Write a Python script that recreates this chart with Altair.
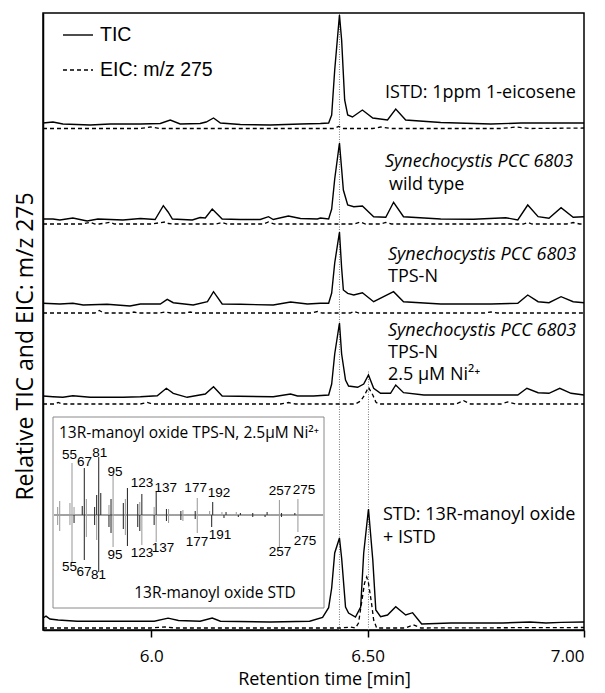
import altair as alt
import pandas as pd

# ---------------- chromatograms ----------------
# retention time (min) and relative intensity above each trace's own EIC baseline
istd_tic_rt = [5.750, 5.773, 5.796, 5.859, 5.905, 5.975, 6.021, 6.044, 6.067, 6.113, 6.127, 6.144, 6.160, 6.206,
               6.275, 6.345, 6.391, 6.410, 6.417, 6.424, 6.435, 6.440, 6.447, 6.454, 6.465, 6.488, 6.512, 6.546,
               6.565, 6.588, 6.669, 6.785, 6.854, 6.924, 7.0]
istd_tic = [5.5, 6.5, 4.5, 3.5, 4.5, 4.5, 5, 8.5, 4.5, 5, 6.5, 10.5, 5.5, 4, 3.5, 4.5, 5, 5.5, 13.5, 58.5, 113.5,
            88.5, 28.5, 13.5, 11.5, 18.5, 10.5, 8.5, 19.5, 8.5, 6, 4.5, 5.5, 5.5, 5.5]
istd_eic_rt = [5.750, 5.975, 5.998, 6.021, 6.345, 6.422, 6.433, 6.444, 6.512, 6.530, 6.553, 6.692, 6.808, 6.843,
               6.877, 7.0]
istd_eic = [0, 0, 1.5, 0, 0, 0, 2, 0, 0, 1.5, 0, 0, 0, 1.5, 0, 0.5]

wt_tic_rt = [5.750, 5.773, 5.789, 5.819, 5.852, 5.877, 5.935, 5.975, 6.009, 6.028, 6.039, 6.049, 6.095, 6.113,
             6.125, 6.141, 6.164, 6.206, 6.252, 6.271, 6.282, 6.317, 6.345, 6.384, 6.391, 6.410, 6.417, 6.424,
             6.435, 6.440, 6.444, 6.454, 6.468, 6.488, 6.514, 6.542, 6.560, 6.583, 6.669, 6.745, 6.819, 6.847,
             6.870, 6.894, 6.919, 6.947, 6.975, 7.0]
wt_tic = [5, 5, 4, 6, 3, 5, 4, 5.5, 4.5, 18.3, 12, 5, 4, 6.5, 6, 15, 5, 4.5, 4.5, 7.3, 4.5, 8, 5.5, 5, 6, 5, 15,
          45, 81, 55, 34, 19, 17.3, 18, 7.3, 6.7, 21.7, 7.3, 5, 4.7, 6.3, 4, 19, 7.3, 5.7, 16.3, 6.7, 7.3]
wt_eic_rt = [5.750, 5.840, 5.859, 5.870, 5.880, 5.905, 5.915, 6.000, 6.032, 6.040, 6.050, 6.150, 6.164, 6.175,
             6.260, 6.271, 6.285, 6.470, 6.484, 6.495, 6.530, 6.542, 6.555, 6.860, 6.870, 6.880, 6.960, 6.975,
             6.990, 7.0]
wt_eic = [0, 0, 1.7, 0, 0, 1.7, 0, 0, 2, 0.5, 0, 0, 1.5, 0, 0, 2, 0, 0, 2, 0, 0, 1.5, 0, 0, 1.5, 0, 0, 1.5, 0, 0]

tps_tic_rt = [5.750, 5.789, 5.819, 5.843, 5.898, 5.951, 5.975, 6.021, 6.037, 6.051, 6.097, 6.130, 6.144, 6.164,
              6.206, 6.282, 6.322, 6.361, 6.391, 6.410, 6.417, 6.424, 6.435, 6.440, 6.444, 6.454, 6.468, 6.488,
              6.514, 6.560, 6.583, 6.669, 6.785, 6.847, 6.870, 6.894, 6.919, 6.947, 6.975, 7.0]
tps_tic = [9.7, 9, 9.7, 8, 8.7, 7, 9, 9, 13.7, 10.3, 8, 11.3, 21.3, 9, 8.7, 8, 11, 9, 9.7, 9.7, 20, 50, 81, 45,
           23, 19.7, 18, 20.3, 11.3, 21.3, 11.3, 9, 9, 9.7, 18, 11.3, 10.3, 16.3, 11.3, 10.3]
tps_eic_rt = [5.750, 5.870, 5.880, 5.890, 5.950, 5.960, 5.970, 6.020, 6.032, 6.045, 6.080, 6.090, 6.100, 6.370,
              6.384, 6.395, 6.460, 6.468, 6.480, 6.770, 6.785, 6.800, 7.0]
tps_eic = [0, 0, 2.5, 0, 0, 1, 0, 0, 1, 0, 0, 1, 0, 0, 1.5, 0, 0, 1.5, 0, 0, 1, 0, 0]

ni_tic_rt = [5.750, 5.773, 5.796, 5.819, 5.859, 5.935, 5.975, 6.014, 6.035, 6.051, 6.083, 6.125, 6.144, 6.164,
             6.282, 6.322, 6.338, 6.375, 6.410, 6.417, 6.424, 6.435, 6.440, 6.449, 6.456, 6.477, 6.491, 6.502,
             6.514, 6.530, 6.553, 6.565, 6.583, 6.630, 6.745, 6.847, 6.868, 6.894, 6.919, 6.944, 6.970, 7.0]
ni_tic = [8, 7.3, 6.7, 8.3, 6.7, 6.7, 7.3, 8.3, 15.7, 10.7, 6.7, 10, 17.3, 8, 7.3, 10, 8, 8, 9, 20, 50, 81, 50,
          24, 18, 16.7, 20, 29, 15.7, 10.7, 10.7, 19, 11.3, 9, 9, 9, 15.7, 11.3, 10.7, 15.7, 10.7, 9]
ni_eic_rt = [5.750, 5.778, 5.785, 5.794, 5.975, 5.991, 6.002, 6.299, 6.317, 6.333, 6.472, 6.484, 6.493, 6.502,
             6.512, 6.519, 6.525, 6.704, 6.722, 6.738, 6.808, 6.824, 6.843, 7.0]
ni_eic = [0, 0, 1.5, 0, 0, 1.5, 0, 0, 1.5, 0, 0, 3, 9, 16.7, 9, 2, 0, 0, 3.3, 0, 0, 2, 0, 0]

std_tic_rt = [5.750, 5.757, 5.766, 5.785, 5.829, 6.007, 6.039, 6.063, 6.113, 6.141, 6.160, 6.275, 6.366, 6.396,
              6.410, 6.417, 6.424, 6.435, 6.440, 6.449, 6.456, 6.472, 6.484, 6.491, 6.502, 6.512, 6.519, 6.530,
              6.546, 6.565, 6.588, 6.604, 6.625, 6.692, 6.812, 6.875, 6.912, 6.947, 7.0]
std_tic = [10, 11.8, 9, 8, 6.8, 6.8, 9.9, 7.5, 6.8, 9.9, 6.8, 6, 6.8, 10.6, 20.3, 40, 75, 90, 70, 21, 15, 11, 21,
           75, 119, 68, 18, 11.3, 13, 21.3, 13, 15.3, 4, 5, 5, 6, 5, 5.6, 6]
std_eic_rt = [5.750, 5.998, 6.032, 6.056, 6.438, 6.461, 6.472, 6.479, 6.486, 6.493, 6.498, 6.502, 6.509, 6.514,
              6.521, 6.588, 6.606, 6.623, 7.0]
std_eic = [0, 0, 1, 0, 0, 1, 0, 5, 25, 45, 51, 45, 25, 8, 0, 0, 3.2, 0, 0.5]

panels = ["ISTD", "WT", "TPSN", "NI", "STD"]
panel_baseline = [501.5, 406, 317, 226, 2]
tic_series = [(istd_tic_rt, istd_tic), (wt_tic_rt, wt_tic), (tps_tic_rt, tps_tic), (ni_tic_rt, ni_tic),
              (std_tic_rt, std_tic)]
eic_series = [(istd_eic_rt, istd_eic), (wt_eic_rt, wt_eic), (tps_eic_rt, tps_eic), (ni_eic_rt, ni_eic),
              (std_eic_rt, std_eic)]

# retention times of the two marked compounds (1-eicosene, 13R-manoyl oxide)
marker_rt = [6.435, 6.502]
marker_top = [617, 260]

# ---------------- inset mass spectra (m/z, relative abundance) ----------------
up_light_mz = [41, 43, 53, 55, 57, 69, 91, 95, 107, 121, 135, 149, 163, 177, 189, 201, 215, 257, 275]
up_light_int = [8, 14, 12, 52, 8, 16, 10, 40, 16, 13, 8, 6, 5, 17, 4, 3, 3, 15, 16]
up_dark_mz = [65, 67, 77, 79, 81, 83, 93, 105, 109, 119, 123, 137, 147, 161, 175, 192, 205, 219, 231, 245, 259, 272]
up_dark_int = [9, 47, 8, 20, 58, 22, 16, 12, 27, 11, 21, 23, 6, 4, 4, 13, 3, 2, 2, 3, 2, 2]
lo_light_mz = [41, 43, 53, 55, 69, 79, 95, 107, 123, 137, 149, 163, 177, 257, 275]
lo_light_int = [10, 16, 10, 48, 22, 25, 32, 20, 30, 27, 8, 6, 18, 32, 17]
lo_dark_mz = [57, 67, 77, 81, 91, 93, 105, 109, 119, 121, 135, 147, 161, 175, 191, 203, 217, 231, 243, 259]
lo_dark_int = [8, 45, 10, 57, 12, 18, 14, 31, 12, 16, 10, 6, 5, 4, 12, 3, 2, 2, 2, 2]

up_labels = ["55", "67", "81", "95", "123", "137", "177", "192", "257", "275"]
up_label_mz = [52.6, 67.2, 82.0, 96.9, 123.2, 146.2, 175.4, 198.1, 257.5, 280.9]
up_label_h = [60, 53, 62, 43, 32, 27, 27, 22, 24, 25]
lo_labels = ["55", "67", "81", "95", "123", "137", "177", "191", "257", "275"]
lo_label_mz = [52.6, 66.7, 80.8, 96.9, 123.2, 143.6, 176.7, 199.1, 257.5, 281.9]
lo_label_h = [-52, -57, -60, -40, -38, -33, -27, -20, -37, -26]

# ---------------- build tables ----------------
tic_rows, eic_rows = [], []
for p, base, (trt, tv), (ert, ev) in zip(panels, panel_baseline, tic_series, eic_series):
    tic_rows.append(pd.DataFrame({"rt": trt, "y": [v + base for v in tv], "panel": p}))
    eic_rows.append(pd.DataFrame({"rt": ert, "y": [v + base for v in ev], "panel": p}))
tic_df = pd.concat(tic_rows, ignore_index=True)
eic_df = pd.concat(eic_rows, ignore_index=True)
marker_df = pd.DataFrame({"rt": marker_rt, "y0": [0, 0], "y1": marker_top})

def peaks(mz, inten, sign):
    return pd.DataFrame({"mz": mz, "h0": [0] * len(mz), "h": [sign * v for v in inten]})

up_light = peaks(up_light_mz, up_light_int, 1)
up_dark = peaks(up_dark_mz, up_dark_int, 1)
lo_light = peaks(lo_light_mz, lo_light_int, -1)
lo_dark = peaks(lo_dark_mz, lo_dark_int, -1)
lab_df = pd.DataFrame({"mz": up_label_mz + lo_label_mz, "h": up_label_h + lo_label_h,
                       "t": up_labels + lo_labels})
one = pd.DataFrame({"a": [0]})

# ---------------- scales / axes ----------------
FONT = "Open Sans"
xs = alt.Scale(domain=[5.75, 7.0], nice=False, zero=False)
ys = alt.Scale(domain=[0, 617], nice=False, zero=False)
xaxis = alt.Axis(values=[6.0, 6.5, 7.0],
                 labelExpr="datum.value == 6 ? '6.0' : (datum.value == 6.5 ? '6.50' : '7.00')",
                 title="Retention time [min]", grid=False, domainColor="black", domainWidth=1.5,
                 tickColor="black", tickSize=7, tickWidth=1.5, labelFont=FONT, labelFontSize=17,
                 labelColor="black", labelPadding=11, titleFont=FONT, titleFontSize=18,
                 titleFontWeight="normal", titleColor="black", titlePadding=6, titleX=281)
yaxis = alt.Axis(title="Relative TIC and EIC: m/z 275", labels=False, ticks=False, grid=False,
                 domainColor="black", domainWidth=1.5, titleFont=FONT, titleFontSize=23,
                 titleFontWeight="normal", titleColor="black", titlePadding=6, titleY=333)

def X(f):
    return alt.X(f, type="quantitative", scale=xs, axis=xaxis)

def Y(f):
    return alt.Y(f, type="quantitative", scale=ys, axis=yaxis)

DASH = [4, 3]
tic = alt.Chart(tic_df).mark_line(color="black", strokeWidth=1.4).encode(
    x=X("rt"), y=Y("y"), detail="panel:N")
eic = alt.Chart(eic_df).mark_line(color="black", strokeWidth=1.3, strokeDash=DASH).encode(
    x=X("rt"), y=Y("y"), detail="panel:N")
markers = alt.Chart(marker_df).mark_rule(color="#777777", strokeWidth=1, strokeDash=[1, 1.5]).encode(
    x=X("rt"), y=Y("y0"), y2="y1")

leg_tic = alt.Chart(one).mark_rule(color="black", strokeWidth=1.4).encode(
    x=alt.value(20), x2=alt.value(50), y=alt.value(22))
leg_eic = alt.Chart(one).mark_rule(color="black", strokeWidth=1.3, strokeDash=DASH).encode(
    x=alt.value(20), x2=alt.value(50), y=alt.value(57))

def txt(s, x, y, size=18, font=FONT, style="normal", align="left"):
    return alt.Chart(one).mark_text(text=s, font=font, fontSize=size, fontStyle=style, align=align,
                                    baseline="middle", color="black").encode(
        x=alt.value(x), y=alt.value(y))

texts = [
    txt("TIC", 57, 22, size=19.5, font="Liberation Sans"),
    txt("EIC: m/z 275", 57, 57, size=19.5, font="Liberation Sans"),
    txt("ISTD: 1ppm 1-eicosene", 342, 80),
    txt("Synechocystis PCC 6803", 342, 149, style="italic"),
    txt("wild type", 346, 172),
    txt("Synechocystis PCC 6803", 345, 242, style="italic"),
    txt("TPS-N", 345, 264),
    txt("Synechocystis PCC 6803", 345, 318, style="italic"),
    txt("TPS-N", 345, 340),
    txt("2.5 µM Ni²⁺", 345, 362),
    txt("STD: 13R-manoyl oxide", 340, 502),
    txt("+ ISTD", 340, 525),
    txt("13R-manoyl oxide TPS-N, 2.5µM Ni²⁺", 16, 420, size=15.5),
    txt("13R-manoyl oxide STD", 172, 580, size=15.5, align="center"),
]

box = alt.Chart(one).mark_rect(fillOpacity=0, stroke="#8a8a8a", strokeWidth=1).encode(
    x=alt.value(10), x2=alt.value(281), y=alt.value(404), y2=alt.value(595))

main = alt.layer(markers, tic, eic, leg_tic, leg_eic, box, *texts)

# inset scales
xi = alt.Scale(domain=[36.5, 300.4], range=[10, 281], nice=False, zero=False)
yi = alt.Scale(domain=[-93, 98], range=[595, 404], nice=False, zero=False)

def XI(f):
    return alt.X(f, type="quantitative", scale=xi, axis=None)

def YI(f):
    return alt.Y(f, type="quantitative", scale=yi, axis=None)

base_line = alt.Chart(pd.DataFrame({"m0": [37.5], "m1": [299.5], "z": [0]})).mark_rule(
    color="#444444", strokeWidth=1).encode(x=XI("m0"), x2="m1", y=YI("z"))
sp_layers = []
for d, c in [(up_light, "#a0a0a0"), (lo_light, "#a0a0a0"), (up_dark, "#333333"), (lo_dark, "#333333")]:
    sp_layers.append(alt.Chart(d).mark_rule(color=c, strokeWidth=1.1).encode(
        x=XI("mz"), y=YI("h0"), y2="h"))
labels = alt.Chart(lab_df).mark_text(font="Liberation Sans", fontSize=13.5, color="black",
                                     baseline="middle", align="center").encode(
    x=XI("mz"), y=YI("h"), text="t:N")
inset = alt.layer(base_line, *sp_layers, labels)

chart = alt.layer(main, inset).resolve_scale(x="independent", y="independent").properties(
    width=541, height=617,
    autosize=alt.AutoSizeParams(type="none"),
    padding={"left": 35, "top": 5, "right": 13, "bottom": 64},
).configure_view(stroke="black", strokeWidth=1.5)

chart.save("out.html", embed_options={"renderer": "svg", "actions": False})
